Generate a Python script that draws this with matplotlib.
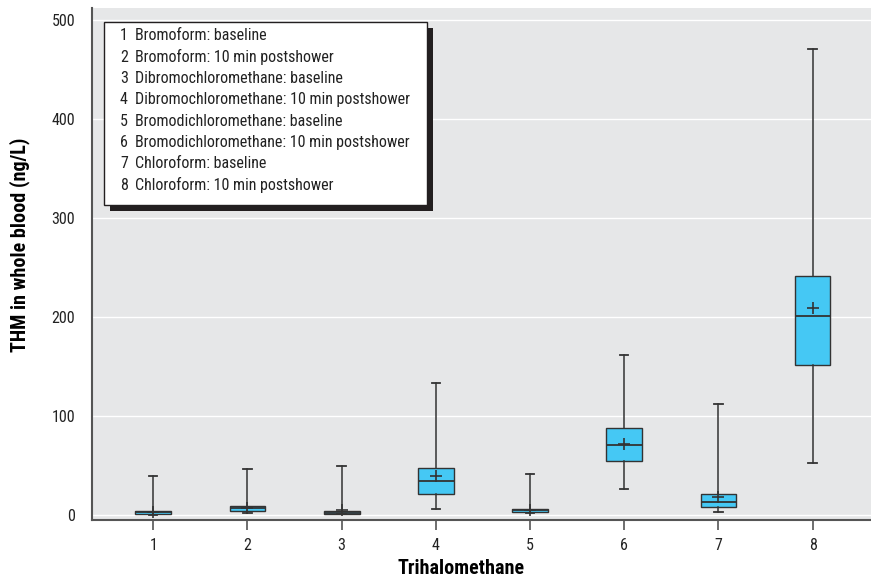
import matplotlib.pyplot as plt
from matplotlib.patches import Rectangle

# THM concentrations (ng/L)
positions = [1, 2, 3, 4, 5, 6, 7, 8]
whislo = [0.0, 1.7, 1.0, 6.0, 2.3, 26.5, 3.3, 52.7]
q1 = [1.5, 3.7, 1.0, 20.9, 3.0, 55.1, 8.1, 151.5]
med = [3.0, 6.7, 2.5, 34.0, 4.7, 70.6, 12.8, 200.6]
q3 = [4.3, 8.8, 4.0, 47.4, 6.4, 88.4, 20.9, 241.6]
whishi = [39.6, 47.0, 49.4, 133.0, 41.0, 161.6, 112.2, 471.0]
means = [3.0, 7.0, 5.0, 39.3, 5.0, 71.6, 18.5, 208.7]

legend_labels = [
    "Bromoform: baseline",
    "Bromoform: 10 min postshower",
    "Dibromochloromethane: baseline",
    "Dibromochloromethane: 10 min postshower",
    "Bromodichloromethane: baseline",
    "Bromodichloromethane: 10 min postshower",
    "Chloroform: baseline",
    "Chloroform: 10 min postshower",
]

plt.rcParams['font.family'] = ['Liberation Sans Narrow', 'DejaVu Sans Condensed',
                               'Roboto Condensed', 'Liberation Sans', 'DejaVu Sans']

fig = plt.figure(figsize=(8.71, 5.80), dpi=100)
ax = fig.add_axes([0.1056, 0.1034, 0.8944, 0.8828])
ax.set_facecolor('#e6e7e8')

stats = []
for i in range(len(positions)):
    stats.append({'whislo': whislo[i], 'q1': q1[i], 'med': med[i], 'q3': q3[i],
                  'whishi': whishi[i], 'mean': means[i], 'fliers': []})

edge = '#333333'
ax.bxp(stats, positions=positions, widths=0.38, patch_artist=True,
       showmeans=True, showfliers=False,
       boxprops=dict(facecolor='#45c8f4', edgecolor=edge, linewidth=1.0),
       medianprops=dict(color=edge, linewidth=1.3),
       whiskerprops=dict(color=edge, linewidth=1.1),
       capprops=dict(color=edge, linewidth=1.3),
       capwidths=0.09,
       meanprops=dict(marker='+', markeredgecolor=edge, markersize=8,
                      markeredgewidth=1.2),
       zorder=3)

ax.set_xlim(0.35, 8.62)
ax.set_ylim(-5, 512)
ax.set_yticks([0, 100, 200, 300, 400, 500])
ax.set_xticks(positions)
ax.set_xticklabels([str(p) for p in positions])
ax.yaxis.grid(True, color='white', linewidth=1.0)
ax.set_axisbelow(True)

for s in ['top', 'right']:
    ax.spines[s].set_visible(False)
for s in ['left', 'bottom']:
    ax.spines[s].set_color('#555555')
    ax.spines[s].set_linewidth(1.5)

ax.tick_params(axis='y', length=0, pad=12, labelsize=11.5, labelcolor='#222222')
ax.tick_params(axis='x', length=7, width=1.2, color='#555555', pad=6,
               labelsize=11.5, labelcolor='#222222', direction='out')

ax.set_xlabel('Trihalomethane', fontsize=14.5, fontweight='bold', va='center')
ax.set_ylabel('THM in whole blood (ng/L)', fontsize=14.5, fontweight='bold',
              va='center')
ax.xaxis.set_label_coords(0.474, -0.095)
ax.yaxis.set_label_coords(-0.093, 0.537)

# legend box with shadow, drawn in figure pixels
W, H = 871.0, 580.0
x0, y0, x1, y1 = 103.5, 21.5, 426.5, 205.0
off = 6.0
fig.patches.append(Rectangle(((x0 + off) / W, 1 - (y1 + off) / H),
                             (x1 - x0) / W, (y1 - y0) / H,
                             transform=fig.transFigure, facecolor='#231f20',
                             edgecolor='none', zorder=5))
fig.patches.append(Rectangle((x0 / W, 1 - y1 / H), (x1 - x0) / W, (y1 - y0) / H,
                             transform=fig.transFigure, facecolor='white',
                             edgecolor='#231f20', linewidth=1.0, zorder=6))
for i, lab in enumerate(legend_labels):
    yc = 36.0 + i * 21.3
    fig.text(120 / W, 1 - yc / H, str(i + 1), fontsize=11.5, va='center',
             ha='left', color='#222222', zorder=7)
    fig.text(135 / W, 1 - yc / H, lab, fontsize=11.5, va='center',
             ha='left', color='#222222', zorder=7)

fig.savefig('out.png', dpi=100)
